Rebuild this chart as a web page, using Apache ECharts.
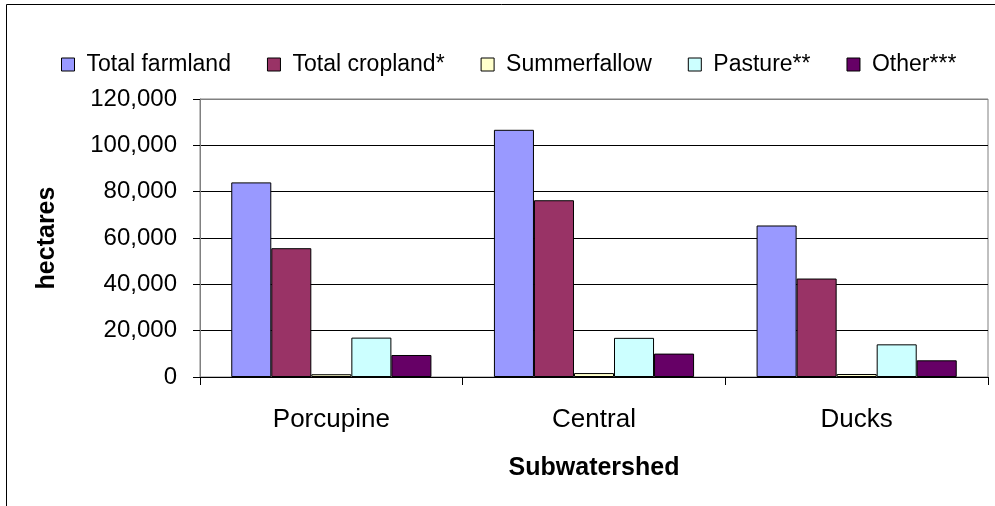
<!DOCTYPE html>
<html>
<head>
<meta charset="utf-8">
<script src="https://cdn.jsdelivr.net/npm/echarts@6/dist/echarts.min.js"></script>
<style>
html,body{margin:0;padding:0;background:#fff;}
#chart{width:995px;height:506px;}
</style>
</head>
<body>
<div id="chart"></div>
<script>
var categories = ['Porcupine', 'Central', 'Ducks'];
var seriesNames = ['Total farmland', 'Total cropland*', 'Summerfallow', 'Pasture**', 'Other***'];
var totalFarmland = [84000, 106700, 65400];
var totalCropland = [55600, 76300, 42500];
var summerfallow = [1200, 1700, 1300];
var pasture = [17000, 16900, 14100];
var other = [9500, 10100, 7200];
var seriesColors = ['#9999FF', '#993366', '#FFFFCC', '#CCFFFF', '#660066'];
var yTicks = [0, 20000, 40000, 60000, 80000, 100000, 120000];

var seriesValues = [totalFarmland, totalCropland, summerfallow, pasture, other];
var FONT = '"Liberation Sans", Arial, sans-serif';

var chart = echarts.init(document.getElementById('chart'), null, {renderer: 'canvas'});
var series = seriesNames.map(function (name, i) {
  return {
    name: name,
    type: 'bar',
    data: seriesValues[i],
    barGap: '0%',
    barCategoryGap: '23.8%',
    itemStyle: {color: seriesColors[i], borderColor: '#000', borderWidth: 1},
    emphasis: {disabled: true}
  };
});

var splitColors = yTicks.map(function (v, i) { return i === yTicks.length - 1 ? '#808080' : '#000'; });

chart.setOption({
  animation: false,
  backgroundColor: '#fff',
  textStyle: {fontFamily: FONT},
  graphic: [{
    type: 'rect',
    shape: {x: 6.5, y: 4.5, width: 1100, height: 600},
    style: {fill: 'none', stroke: '#000', lineWidth: 1},
    silent: true,
    z: -10
  }],
  legend: {
    left: 56,
    top: 48,
    itemWidth: 13,
    itemHeight: 13,
    itemGap: 36,
    icon: 'rect',
    textStyle: {fontFamily: FONT, fontSize: 23, color: '#000', padding: [0, 0, 0, 7]},
    itemStyle: {borderColor: '#000', borderWidth: 1},
    data: seriesNames
  },
  grid: {left: 200, right: 7, top: 99, bottom: 129, show: true, borderColor: '#808080', borderWidth: 1, containLabel: false},
  xAxis: {
    type: 'category',
    data: categories,
    name: 'Subwatershed',
    nameLocation: 'middle',
    nameGap: 79,
    nameTextStyle: {fontFamily: FONT, fontSize: 25, fontWeight: 'bold', color: '#000'},
    axisLine: {lineStyle: {color: '#000', width: 1}},
    axisTick: {show: true, length: 8, inside: false, alignWithLabel: false, lineStyle: {color: '#000'}},
    axisLabel: {fontFamily: FONT, fontSize: 26, color: '#000', margin: 30},
    splitLine: {show: false}
  },
  yAxis: {
    type: 'value',
    min: 0,
    max: 120000,
    interval: 20000,
    name: 'hectares',
    nameLocation: 'middle',
    nameGap: 140,
    nameRotate: 90,
    nameTextStyle: {fontFamily: FONT, fontSize: 25, fontWeight: 'bold', color: '#000'},
    axisLine: {show: true, lineStyle: {color: '#808080', width: 1}},
    axisTick: {show: true, length: 7, inside: false, lineStyle: {color: '#000'}},
    axisLabel: {
      fontFamily: FONT, fontSize: 24, color: '#000', margin: 23,
      formatter: function (v) { return v.toLocaleString('en-US'); }
    },
    splitLine: {show: true, lineStyle: {color: splitColors, width: 1}}
  },
  series: series
});
</script>
</body>
</html>
